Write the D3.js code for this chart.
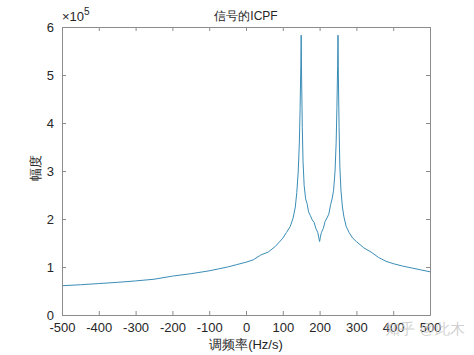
<!DOCTYPE html>
<html>
<head>
<meta charset="utf-8">
<script src="https://cdn.jsdelivr.net/npm/d3@7"></script>
<style>
  body { margin: 0; background: #fff; }
  svg text { font-family: "Liberation Sans", Arial, sans-serif; }
</style>
</head>
<body>
<div id="chart"></div>
<script>
// chirp rate (Hz/s) and magnitude (x1e5)
const freq = [-500, -450, -400, -350, -300, -250, -200, -150, -100, -75, -50, -25, 0, 20, 40, 60, 80, 100,
  110, 120, 128, 134, 138, 142, 145, 147, 149, 150, 151, 153, 155, 158, 162, 166, 170, 175, 180, 185, 190,
  195, 198, 200, 202, 205, 210, 215, 220, 225, 230, 234, 238, 242, 245, 247, 249, 250, 251, 253, 255, 258,
  262, 266, 272, 280, 290, 300, 320, 340, 360, 380, 400, 425, 450, 475, 500];
const mag = [0.61, 0.63, 0.655, 0.68, 0.71, 0.745, 0.81, 0.86, 0.92, 0.96, 1.0, 1.05, 1.1, 1.15, 1.25, 1.31, 1.43, 1.6,
  1.72, 1.84, 2.02, 2.25, 2.55, 3.0, 3.6, 4.3, 5.2, 5.83, 5.0, 3.9, 3.2, 2.7, 2.42, 2.32, 2.15, 2.07, 1.98, 1.93, 1.8,
  1.72, 1.6, 1.53, 1.62, 1.72, 1.8, 1.95, 2.02, 2.1, 2.3, 2.42, 2.6, 3.0, 3.6, 4.3, 5.2, 5.83, 5.0, 3.9, 3.1, 2.6,
  2.25, 2.05, 1.85, 1.72, 1.6, 1.53, 1.4, 1.31, 1.2, 1.12, 1.07, 1.02, 0.98, 0.94, 0.9];
const xTicks = [-500, -400, -300, -200, -100, 0, 100, 200, 300, 400, 500];
const yTicks = [0, 1, 2, 3, 4, 5, 6];

const width = 474, height = 355;
const margin = { top: 27, right: 44, bottom: 40, left: 62 };
const w = width - margin.left - margin.right;
const h = height - margin.top - margin.bottom;

const svg = d3.select("#chart").append("svg")
    .attr("width", width)
    .attr("height", height);

const x = d3.scaleLinear().domain([-500, 500]).range([0, w]);
const y = d3.scaleLinear().domain([0, 6]).range([h, 0]);

const g = svg.append("g")
    .attr("transform", `translate(${margin.left},${margin.top})`);

const data = freq.map((f, i) => ({ f: f, v: mag[i] }));

g.append("path")
    .datum(data)
    .attr("fill", "none")
    .attr("stroke", "#3a8db6")
    .attr("stroke-width", 1)
    .attr("d", d3.line().x(d => x(d.f)).y(d => y(d.v)));

// axes, MATLAB style: ticks inside, box all round
const axisColor = "#8c8c8c";
const fmt = d => String(d);
const styleAxis = sel => {
    sel.select(".domain").attr("stroke", axisColor);
    sel.selectAll(".tick line").attr("stroke", axisColor);
    sel.selectAll(".tick text").attr("fill", "#262626").style("font-size", "13px");
};

g.append("g")
    .attr("transform", `translate(0,${h})`)
    .call(d3.axisBottom(x).tickValues(xTicks).tickFormat(fmt).tickSizeInner(-4).tickSizeOuter(0).tickPadding(8))
    .call(styleAxis);

g.append("g")
    .call(d3.axisLeft(y).tickValues(yTicks).tickFormat(fmt).tickSizeInner(-4).tickSizeOuter(0).tickPadding(8))
    .call(styleAxis);

g.append("g")
    .call(d3.axisTop(x).tickValues(xTicks).tickSizeInner(-4).tickSizeOuter(0).tickFormat(""))
    .call(styleAxis);

g.append("g")
    .attr("transform", `translate(${w},0)`)
    .call(d3.axisRight(y).tickValues(yTicks).tickSizeInner(-4).tickSizeOuter(0).tickFormat(""))
    .call(styleAxis);

// exponent
const ex = svg.append("text")
    .attr("x", margin.left)
    .attr("y", 21)
    .attr("fill", "#262626")
    .style("font-size", "13px");
ex.append("tspan").text("×10");
ex.append("tspan").attr("dy", -6).style("font-size", "10px").text("5");

svg.append("text")
    .attr("x", margin.left + w / 2)
    .attr("y", 20)
    .attr("text-anchor", "middle")
    .attr("fill", "#262626")
    .style("font-size", "12px")
    .text("信号的ICPF");

svg.append("text")
    .attr("x", margin.left + w / 2)
    .attr("y", 349)
    .attr("text-anchor", "middle")
    .attr("fill", "#262626")
    .style("font-size", "13px")
    .text("调频率(Hz/s)");

svg.append("text")
    .attr("transform", `translate(40,${margin.top + h / 2 - 3}) rotate(-90)`)
    .attr("text-anchor", "middle")
    .attr("fill", "#262626")
    .style("font-size", "13px")
    .text("幅度");

// watermark
svg.append("text")
    .attr("x", 425)
    .attr("y", 334)
    .attr("text-anchor", "middle")
    .attr("fill", "#c8c8c8")
    .attr("fill-opacity", 0.85)
    .style("font-size", "15px")
    .text("知乎 @此木");
</script>
</body>
</html>
